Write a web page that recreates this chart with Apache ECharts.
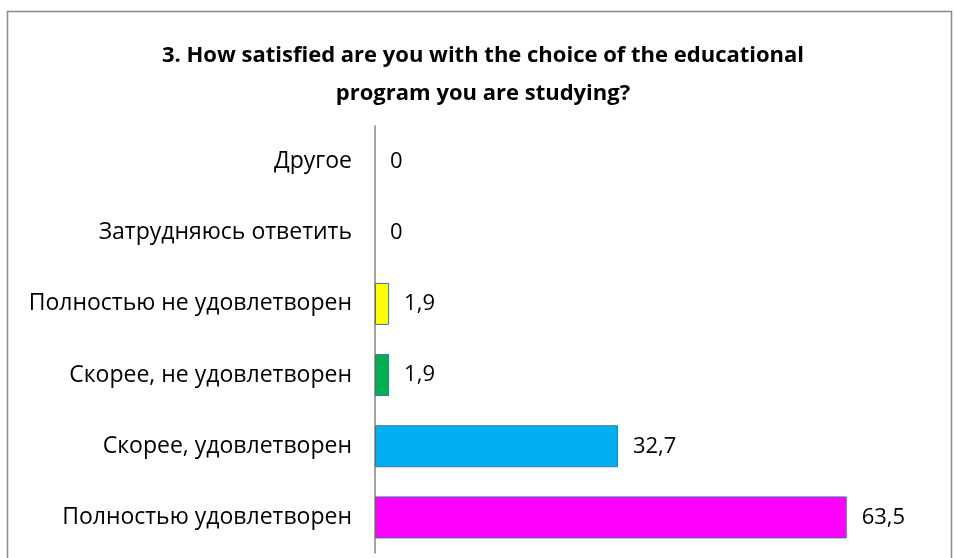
<!DOCTYPE html>
<html><head><meta charset="utf-8">
<script src="https://cdn.jsdelivr.net/npm/echarts@6/dist/echarts.min.js"></script>
<style>html,body{margin:0;padding:0;background:#fff}#c{width:955px;height:558px}</style>
</head><body><div id="c"></div>
<script>
const categories = ['Полностью удовлетворен','Скорее, удовлетворен','Скорее, не удовлетворен','Полностью не удовлетворен','Затрудняюсь ответить','Другое'];
const values = [63.5, 32.7, 1.9, 1.9, 0, 0];
const colors = ['#FF00FF','#00B0F0','#00B050','#FFFF00','#FFFF00','#FFFF00'];
const titleText = '3. How satisfied are you with the choice of the educational\nprogram you are studying?';

const chart = echarts.init(document.getElementById('c'), null, {renderer:'canvas'});
const font = '"Open Sans", "DejaVu Sans", sans-serif';
chart.setOption({
  animation:false,
  title:{text:titleText,left:478,textAlign:'center',top:32,
    textStyle:{fontFamily:font,fontSize:22,fontWeight:'bold',color:'#000',lineHeight:38}},
  graphic:[{type:'rect',shape:{x:7.5,y:11.5,width:944,height:560},style:{fill:'none',stroke:'#8c8c8c',lineWidth:1.5},silent:true,z:-1}],
  grid:{left:375,right:60,top:126,bottom:5},
  xAxis:{type:'value',min:0,max:70,show:false},
  yAxis:{type:'category',data:categories,
    axisLine:{show:true,lineStyle:{color:'#868686',width:1.5}},
    axisTick:{show:false},
    axisLabel:{margin:23,fontFamily:font,fontSize:23,color:'#000'}},
  series:[{type:'bar',data:values.map((v,i)=>({value:v,itemStyle:{color:colors[i],borderWidth:v===0?0:1}})),
    barWidth:42,
    itemStyle:{borderColor:'#41719C'},
    label:{show:true,position:'right',distance:15,fontFamily:font,fontSize:22,color:'#000',
      formatter:p=>String(p.value).replace('.',',')}}]
});
</script></body></html>
